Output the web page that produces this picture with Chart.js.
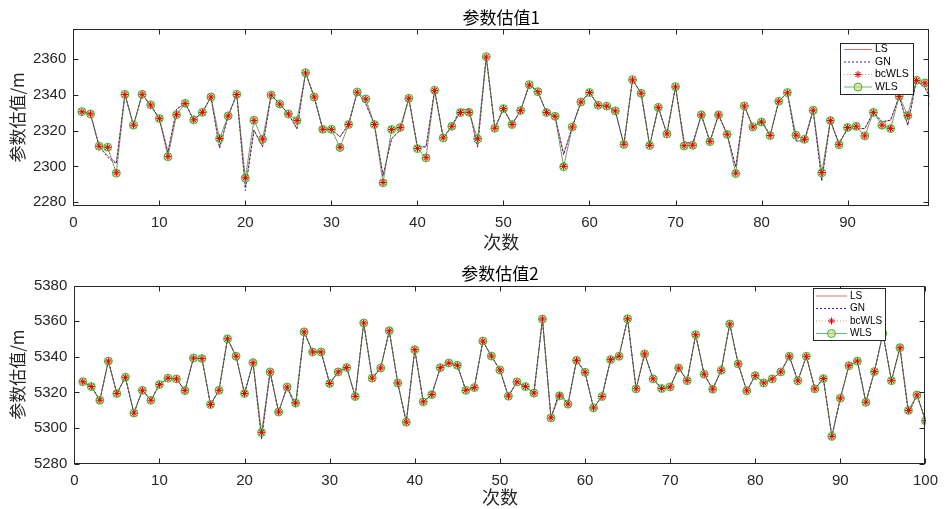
<!DOCTYPE html>
<html>
<head>
<meta charset="utf-8">
<script src="https://cdn.jsdelivr.net/npm/chart.js@4.4.0/dist/chart.umd.min.js"></script>
<style>
  html, body { margin: 0; padding: 0; background: #fff; }
  #wrap { position: relative; width: 946px; height: 509px; }
  canvas { position: absolute; left: 0; }
  #c1 { top: 0; }
  #c2 { top: 255px; }
</style>
</head>
<body>
<div id="wrap">
  <canvas id="c1" width="946" height="255"></canvas>
  <canvas id="c2" width="946" height="254"></canvas>
</div>
<script>
// ---- data: 参数估值1 ----
const wls1 = [2330.7, 2329.4, 2311.3, 2310.8, 2296.2, 2340.4, 2323.1, 2340.4, 2334.5, 2326.8,
  2305.4, 2329.0, 2335.4, 2326.1, 2330.3, 2338.9, 2315.6, 2328.3, 2340.4, 2293.4,
  2325.9, 2315.2, 2340.0, 2335.0, 2329.4, 2325.7, 2352.5, 2338.9, 2320.8, 2320.8,
  2310.6, 2323.5, 2341.7, 2337.8, 2323.5, 2290.8, 2320.7, 2321.8, 2338.2, 2310.0,
  2304.8, 2342.7, 2316.0, 2322.5, 2330.2, 2330.3, 2315.4, 2361.5, 2321.4, 2332.4,
  2323.5, 2331.3, 2345.8, 2341.9, 2330.2, 2328.1, 2299.8, 2322.1, 2336.1, 2341.4,
  2334.3, 2333.8, 2331.1, 2312.3, 2348.6, 2341.0, 2311.7, 2333.1, 2318.2, 2344.7,
  2311.5, 2311.9, 2328.9, 2313.9, 2328.9, 2318.0, 2296.0, 2333.9, 2322.1, 2324.9,
  2317.3, 2336.5, 2341.4, 2317.5, 2315.2, 2331.5, 2296.4, 2325.7, 2312.1, 2321.8,
  2322.5, 2317.1, 2330.3, 2323.1, 2321.2, 2339.3, 2328.5, 2348.3, 2346.8, 2335.0];
const bcwls1 = [2330.6, 2329.4, 2311.3, 2310.7, 2296.4, 2340.3, 2323.1, 2340.4, 2334.4, 2326.8,
  2305.5, 2329.0, 2335.3, 2326.1, 2330.3, 2338.9, 2315.7, 2328.3, 2340.3, 2293.6,
  2325.8, 2315.3, 2340.0, 2334.9, 2329.4, 2325.7, 2352.4, 2338.9, 2320.8, 2320.8,
  2310.7, 2323.5, 2341.6, 2337.8, 2323.5, 2291.0, 2320.7, 2321.8, 2338.2, 2310.1,
  2304.9, 2342.6, 2316.0, 2322.5, 2330.2, 2330.3, 2315.5, 2361.3, 2321.4, 2332.4,
  2323.5, 2331.3, 2345.7, 2341.9, 2330.2, 2328.1, 2300.0, 2322.1, 2336.1, 2341.4,
  2334.3, 2333.8, 2331.1, 2312.4, 2348.5, 2341.0, 2311.8, 2333.1, 2318.2, 2344.6,
  2311.6, 2311.9, 2328.9, 2313.9, 2328.9, 2318.0, 2296.2, 2333.9, 2322.1, 2324.9,
  2317.3, 2336.5, 2341.3, 2317.5, 2315.2, 2331.5, 2296.6, 2325.7, 2312.2, 2321.8,
  2322.5, 2317.1, 2330.3, 2323.1, 2321.2, 2339.2, 2328.5, 2348.2, 2346.7, 2335.0];
const ls1 = [2330.7, 2329.4, 2311.3, 2306.0, 2302.0, 2340.4, 2323.1, 2340.4, 2334.0, 2326.8,
  2308.0, 2332.0, 2335.4, 2326.1, 2330.3, 2338.9, 2310.5, 2328.3, 2340.4, 2288.5,
  2320.3, 2311.0, 2340.0, 2335.0, 2329.4, 2321.2, 2352.5, 2338.9, 2320.8, 2320.8,
  2316.6, 2323.5, 2341.7, 2335.2, 2323.5, 2295.0, 2315.6, 2320.3, 2338.2, 2311.0,
  2311.0, 2342.7, 2316.0, 2322.5, 2332.0, 2332.0, 2311.0, 2361.5, 2321.4, 2332.4,
  2323.5, 2331.3, 2345.8, 2341.9, 2330.2, 2328.1, 2307.0, 2322.1, 2336.1, 2341.4,
  2334.3, 2333.8, 2331.1, 2312.3, 2348.6, 2341.0, 2311.7, 2333.1, 2318.2, 2344.7,
  2313.8, 2312.8, 2328.9, 2313.9, 2328.9, 2318.0, 2299.8, 2333.9, 2322.1, 2325.9,
  2317.3, 2336.5, 2341.4, 2314.3, 2314.3, 2331.5, 2292.3, 2325.7, 2313.0, 2321.0,
  2321.2, 2321.2, 2330.3, 2325.0, 2325.9, 2339.3, 2323.1, 2348.3, 2344.0, 2335.0];
const gn1 = [2330.7, 2329.4, 2311.3, 2305.0, 2301.5, 2340.4, 2323.1, 2340.4, 2334.0, 2326.8,
  2307.8, 2332.0, 2335.4, 2326.1, 2330.3, 2338.9, 2310.3, 2328.3, 2340.4, 2286.5,
  2320.3, 2311.0, 2340.0, 2335.0, 2329.4, 2321.0, 2352.5, 2338.9, 2320.8, 2320.8,
  2316.6, 2323.5, 2341.7, 2335.0, 2323.5, 2294.8, 2315.6, 2320.3, 2338.2, 2311.0,
  2311.0, 2342.7, 2316.0, 2322.5, 2332.0, 2332.0, 2310.8, 2361.5, 2321.4, 2332.4,
  2323.5, 2331.3, 2345.8, 2341.9, 2330.2, 2328.1, 2306.5, 2322.1, 2336.1, 2341.4,
  2334.3, 2333.8, 2331.1, 2312.3, 2348.6, 2341.0, 2311.7, 2333.1, 2318.2, 2344.7,
  2313.8, 2312.8, 2328.9, 2313.9, 2328.9, 2318.0, 2299.6, 2333.9, 2322.1, 2325.9,
  2317.3, 2336.5, 2341.4, 2314.3, 2314.3, 2331.5, 2292.0, 2325.7, 2313.0, 2321.0,
  2321.2, 2321.2, 2330.3, 2325.0, 2325.9, 2339.3, 2323.1, 2348.3, 2344.0, 2335.0];

// ---- data: 参数估值2 ----
const wls2 = [5326.0, 5323.3, 5315.6, 5337.6, 5319.4, 5328.5, 5308.4, 5321.2, 5315.6, 5324.4,
  5328.0, 5327.6, 5321.0, 5339.3, 5339.0, 5313.2, 5321.2, 5350.1, 5340.3, 5319.4,
  5336.7, 5297.5, 5331.5, 5309.0, 5323.0, 5314.0, 5354.0, 5342.7, 5342.7, 5325.0,
  5331.5, 5334.0, 5317.7, 5359.0, 5328.0, 5333.7, 5354.6, 5325.3, 5303.3, 5344.0,
  5314.7, 5318.8, 5333.9, 5336.5, 5335.2, 5321.2, 5322.7, 5348.8, 5340.4, 5332.6,
  5317.9, 5325.9, 5323.3, 5319.6, 5361.2, 5305.7, 5318.1, 5313.4, 5338.0, 5331.3,
  5311.3, 5317.7, 5338.4, 5340.3, 5361.3, 5322.0, 5341.6, 5327.6, 5322.2, 5323.1,
  5333.7, 5326.6, 5352.4, 5330.2, 5321.8, 5332.4, 5358.4, 5336.0, 5320.9, 5329.4,
  5325.3, 5327.6, 5331.5, 5340.3, 5326.5, 5340.3, 5322.0, 5327.8, 5295.3, 5316.8,
  5335.0, 5337.6, 5314.5, 5331.7, 5353.1, 5326.6, 5345.1, 5309.9, 5318.6, 5304.1];
const bcwls2 = [5326.0, 5323.3, 5315.6, 5337.6, 5319.4, 5328.5, 5308.4, 5321.2, 5315.6, 5324.4,
  5328.0, 5327.6, 5321.0, 5339.3, 5339.0, 5313.2, 5321.2, 5350.1, 5340.3, 5319.4,
  5336.7, 5297.6, 5331.5, 5309.0, 5323.0, 5314.1, 5354.0, 5342.7, 5342.7, 5325.0,
  5331.5, 5334.0, 5317.7, 5359.0, 5328.0, 5333.7, 5354.6, 5325.3, 5303.3, 5344.0,
  5314.7, 5318.8, 5333.9, 5336.5, 5335.2, 5321.2, 5322.7, 5348.8, 5340.4, 5332.6,
  5317.9, 5325.9, 5323.3, 5319.6, 5361.2, 5305.7, 5318.1, 5313.4, 5338.0, 5331.3,
  5311.3, 5317.7, 5338.4, 5340.3, 5361.3, 5322.0, 5341.6, 5327.6, 5322.2, 5323.1,
  5333.7, 5326.6, 5352.4, 5330.2, 5321.8, 5332.4, 5358.4, 5336.0, 5320.9, 5329.4,
  5325.3, 5327.6, 5331.5, 5340.3, 5326.5, 5340.3, 5322.0, 5327.8, 5295.3, 5316.8,
  5335.0, 5337.6, 5314.5, 5331.7, 5353.1, 5326.6, 5345.1, 5309.9, 5318.6, 5304.1];
const ls2 = [5326.0, 5323.3, 5315.6, 5337.6, 5319.4, 5328.5, 5308.4, 5321.2, 5315.6, 5324.4,
  5328.0, 5327.6, 5321.0, 5339.3, 5339.0, 5313.2, 5321.2, 5350.1, 5340.3, 5319.4,
  5336.7, 5294.0, 5331.5, 5309.0, 5323.0, 5312.0, 5354.0, 5342.7, 5342.7, 5325.0,
  5331.5, 5334.0, 5317.7, 5359.0, 5328.0, 5333.7, 5354.6, 5325.3, 5303.3, 5344.0,
  5314.7, 5318.8, 5333.9, 5336.5, 5335.2, 5321.2, 5322.7, 5348.8, 5340.4, 5332.6,
  5317.9, 5325.9, 5323.3, 5319.6, 5361.2, 5305.7, 5320.3, 5313.4, 5338.0, 5331.3,
  5311.3, 5317.7, 5338.4, 5340.3, 5361.3, 5322.0, 5341.6, 5327.6, 5322.2, 5323.1,
  5333.7, 5326.6, 5352.4, 5330.2, 5321.8, 5332.4, 5358.4, 5336.0, 5320.9, 5329.4,
  5325.3, 5327.6, 5331.5, 5340.3, 5326.5, 5340.3, 5322.0, 5327.8, 5295.3, 5316.8,
  5335.0, 5337.6, 5314.5, 5331.7, 5353.1, 5326.6, 5345.1, 5308.0, 5318.6, 5304.1];
const gn2 = [5326.0, 5323.3, 5315.6, 5337.6, 5319.4, 5328.5, 5308.4, 5321.2, 5315.6, 5324.4,
  5328.0, 5327.6, 5321.0, 5339.3, 5339.0, 5313.2, 5321.2, 5350.1, 5340.3, 5319.4,
  5336.7, 5293.8, 5331.5, 5309.0, 5323.0, 5311.8, 5354.0, 5342.7, 5342.7, 5325.0,
  5331.5, 5334.0, 5317.7, 5359.0, 5328.0, 5333.7, 5354.6, 5325.3, 5303.3, 5344.0,
  5314.7, 5318.8, 5333.9, 5336.5, 5335.2, 5321.2, 5322.7, 5348.8, 5340.4, 5332.6,
  5317.9, 5325.9, 5323.3, 5319.6, 5361.2, 5305.7, 5320.3, 5313.4, 5338.0, 5331.3,
  5311.3, 5317.7, 5338.4, 5340.3, 5361.3, 5322.0, 5341.6, 5327.6, 5322.2, 5323.1,
  5333.7, 5326.6, 5352.4, 5330.2, 5321.8, 5332.4, 5358.4, 5336.0, 5320.9, 5329.4,
  5325.3, 5327.6, 5331.5, 5340.3, 5326.5, 5340.3, 5322.0, 5327.8, 5295.3, 5316.8,
  5335.0, 5337.6, 5314.5, 5331.7, 5353.1, 5326.6, 5345.1, 5308.0, 5318.6, 5304.1];

// ---- axes ----
const xTicks1 = [0, 10, 20, 30, 40, 50, 60, 70, 80, 90];
const xTicks2 = [0, 10, 20, 30, 40, 50, 60, 70, 80, 90, 100];
const yTicks1 = [2280, 2300, 2320, 2340, 2360];
const yTicks2 = [5280, 5300, 5320, 5340, 5360, 5380];
const seriesNames = ['LS', 'GN', 'bcWLS', 'WLS'];

const axisColor = '#262626';
const tickFont = { family: 'Liberation Sans, Arial, sans-serif', size: 15 };
const cjkFont = 'Noto Sans CJK SC';

// MATLAB style box with inward ticks
const matlabBox = {
  id: 'matlabBox',
  afterDatasetsDraw(chart) {
    const { ctx, chartArea: a, scales } = chart;
    const L = Math.round(a.left) + 0.5, R = Math.round(a.right) - 0.5;
    const T = Math.round(a.top) + 0.5, B = Math.round(a.bottom) - 0.5;
    ctx.save();
    ctx.strokeStyle = axisColor;
    ctx.lineWidth = 1;
    ctx.strokeRect(L, T, R - L, B - T);
    ctx.beginPath();
    scales.x.ticks.forEach(t => {
      const px = Math.round(scales.x.getPixelForValue(t.value)) + 0.5;
      ctx.moveTo(px, B); ctx.lineTo(px, B - 5);
      ctx.moveTo(px, T); ctx.lineTo(px, T + 5);
    });
    scales.y.ticks.forEach(t => {
      const py = Math.round(scales.y.getPixelForValue(t.value)) + 0.5;
      ctx.moveTo(L, py); ctx.lineTo(L + 5, py);
      ctx.moveTo(R, py); ctx.lineTo(R - 5, py);
    });
    ctx.stroke();
    ctx.restore();
  }
};

// legend box drawn inside the axes
const legendBox = {
  id: 'legendBox',
  afterDraw(chart, args, o) {
    const ctx = chart.ctx;
    ctx.save();
    ctx.fillStyle = '#fff';
    ctx.fillRect(o.x, o.y, o.w, o.h);
    ctx.strokeStyle = axisColor;
    ctx.lineWidth = 1;
    ctx.strokeRect(o.x + 0.5, o.y + 0.5, o.w, o.h);
    chart.data.datasets.forEach((ds, i) => {
      const ry = o.y + o.first + i * o.rowH;
      const x0 = o.x + o.pad, x1 = x0 + o.lineW;
      ctx.save();
      ctx.strokeStyle = ds.borderColor;
      ctx.lineWidth = ds.borderWidth;
      ctx.setLineDash(ds.borderDash || []);
      ctx.beginPath(); ctx.moveTo(x0, ry); ctx.lineTo(x1, ry); ctx.stroke();
      ctx.setLineDash([]);
      if (ds.pointRadius > 0) {
        ctx.strokeStyle = ds.pointBorderColor;
        ctx.fillStyle = ds.pointBackgroundColor;
        ctx.lineWidth = ds.pointBorderWidth;
        Chart.helpers.drawPoint(ctx, { pointStyle: ds.pointStyle, radius: ds.pointRadius,
          borderWidth: ds.pointBorderWidth, rotation: 0 }, (x0 + x1) / 2, ry);
      }
      ctx.restore();
      ctx.fillStyle = '#000';
      ctx.font = o.font;
      ctx.textBaseline = 'middle';
      ctx.fillText(ds.label, x1 + 3, ry);
    });
    ctx.restore();
  }
};

// order: bcWLS stars on top, then WLS, GN, LS underneath
function makeDatasets(ls, gn, bc, wls) {
  const pts = arr => arr.map((v, i) => ({ x: i + 1, y: v }));
  return [
    { label: seriesNames[0], data: pts(ls), borderColor: 'rgba(200,0,0,0.55)', borderWidth: 1,
      pointRadius: 0, clip: 0, order: 3 },
    { label: seriesNames[1], data: pts(gn), borderColor: 'rgba(20,20,170,0.9)', borderWidth: 1,
      borderDash: [2, 2], pointRadius: 0, clip: 0, order: 2 },
    { label: seriesNames[2], data: pts(bc), borderColor: 'rgba(255,0,0,0.45)', borderWidth: 1,
      borderDash: [1, 2], pointStyle: 'star', pointRadius: 3.5, pointBorderColor: '#e00000',
      pointBackgroundColor: '#e00000', pointBorderWidth: 1, clip: 0, order: 0 },
    { label: seriesNames[3], data: pts(wls), borderColor: 'rgba(0,140,40,0.6)', borderWidth: 1,
      pointStyle: 'circle', pointRadius: 4, pointBorderColor: '#33c033',
      pointBackgroundColor: 'rgba(225,200,120,0.55)', pointBorderWidth: 1, clip: 0, order: 1 }
  ];
}

function makeChart(id, cfg) {
  return new Chart(document.getElementById(id), {
    type: 'line',
    data: { datasets: cfg.datasets },
    plugins: [matlabBox, legendBox],
    options: {
      responsive: false,
      animation: false,
      devicePixelRatio: 1,
      layout: { padding: { left: 0, right: cfg.padRight, top: 0, bottom: 0 } },
      elements: { line: { tension: 0 } },
      plugins: {
        legend: { display: false },
        tooltip: { enabled: false },
        title: {
          display: true, text: cfg.title, fullSize: false, color: '#000',
          font: { family: cjkFont, size: 17, weight: 'normal', lineHeight: 1.2 },
          padding: cfg.titlePad
        },
        legendBox: cfg.legend
      },
      scales: {
        x: {
          type: 'linear', min: 0, max: cfg.xMax,
          afterBuildTicks: s => { s.ticks = cfg.xTicks.map(v => ({ value: v })); },
          afterFit: s => { s.height = cfg.xAxisH; },
          grid: { display: false, drawTicks: false },
          border: { display: false },
          ticks: { color: axisColor, font: tickFont, padding: 8, maxRotation: 0, autoSkip: false,
            callback: v => String(v) },
          title: { display: true, text: '次数', color: axisColor,
            font: { family: cjkFont, size: 18 }, padding: { top: 0, bottom: cfg.xTitlePad } }
        },
        y: {
          type: 'linear', min: cfg.yMin, max: cfg.yMax,
          afterBuildTicks: s => { s.ticks = cfg.yTicks.map(v => ({ value: v })); },
          afterFit: s => { s.width = cfg.yAxisW; },
          grid: { display: false, drawTicks: false },
          border: { display: false },
          ticks: { color: axisColor, font: tickFont, padding: 7, callback: v => String(v) },
          title: { display: true, text: '参数估值/m', color: axisColor,
            font: { family: cjkFont, size: 17 }, padding: { top: 7.5, bottom: 0 } }
        }
      }
    }
  });
}

makeChart('c1', {
  datasets: makeDatasets(ls1, gn1, bcwls1, wls1),
  title: '参数估值1',
  titlePad: { top: 7, bottom: 1.6 },
  padRight: 16.7, xMax: 99.5, xTicks: xTicks1,
  yMin: 2278, yMax: 2377, yTicks: yTicks1,
  yAxisW: 73.3, xAxisH: 49.3, xTitlePad: 2.2,
  legend: { x: 840, y: 43, w: 73, h: 51, first: 6.5, rowH: 12.5, pad: 4, lineW: 28,
    font: '10.5px Liberation Sans, Arial, sans-serif' }
});

makeChart('c2', {
  datasets: makeDatasets(ls2, gn2, bcwls2, wls2),
  title: '参数估值2',
  titlePad: { top: 8.5, bottom: 1.6 },
  padRight: 13, xMax: 100, xTicks: xTicks2,
  yMin: 5280, yMax: 5380, yTicks: yTicks2,
  yAxisW: 74.3, xAxisH: 45.3, xTitlePad: 1.2,
  legend: { x: 813, y: 33, w: 72, h: 52, first: 8, rowH: 12.5, pad: 3, lineW: 31,
    font: '10px Liberation Sans, Arial, sans-serif' }
});
</script>
</body>
</html>
